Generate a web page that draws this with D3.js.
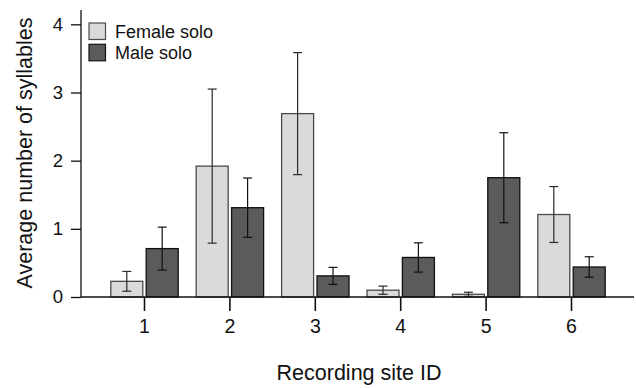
<!DOCTYPE html>
<html>
<head>
<meta charset="utf-8">
<script src="https://cdn.jsdelivr.net/npm/d3@7"></script>
<style>
  html, body { margin: 0; padding: 0; background: #fff; }
  svg { display: block; font-family: Arial, "Liberation Sans", Helvetica, sans-serif; }
</style>
</head>
<body>
<svg id="chart" width="636" height="388"></svg>
<script>
// Recording sites and the two song types
const sites = ["1", "2", "3", "4", "5", "6"];
const seriesNames = ["Female solo", "Male solo"];
// Mean syllable counts per site
const femaleMean = [0.23, 1.92, 2.69, 0.10, 0.04, 1.21];
const maleMean   = [0.71, 1.31, 0.31, 0.58, 1.75, 0.44];
// Standard errors (symmetric error bars)
const femaleSE = [0.145, 1.13, 0.895, 0.06, 0.03, 0.41];
const maleSE   = [0.315, 0.435, 0.125, 0.215, 0.66, 0.15];
const yTicks = [0, 1, 2, 3, 4];

const fills   = { "Female solo": "#d9dada", "Male solo": "#5b5b5b" };
const strokes = { "Female solo": "#4a4a4a", "Male solo": "#111111" };
const errCol  = { "Female solo": "#2a2a2a", "Male solo": "#111111" };

const rows = sites.map((s, i) => ({
  site: s,
  values: [
    { key: "Female solo", mean: femaleMean[i], se: femaleSE[i] },
    { key: "Male solo",   mean: maleMean[i],   se: maleSE[i] }
  ]
}));

const svg = d3.select("#chart");
const axisLeftX = 81, baseY = 297, topY = 10, rightX = 634;

const x = d3.scaleBand().domain(sites).range([101.8, 614.2]).padding(0);
const xInner = d3.scaleBand().domain(seriesNames)
  .range([x.bandwidth() / 2 - 33.7, x.bandwidth() / 2 + 33.7])
  .paddingInner(0.096).paddingOuter(0);
const y = d3.scaleLinear().domain([0, 4.21]).range([baseY, topY]);

// Bars
const groups = svg.append("g").selectAll("g").data(rows).join("g")
  .attr("transform", d => `translate(${x(d.site)},0)`);

groups.selectAll("rect").data(d => d.values).join("rect")
  .attr("x", d => xInner(d.key))
  .attr("y", d => y(d.mean))
  .attr("width", xInner.bandwidth())
  .attr("height", d => y(0) - y(d.mean))
  .attr("fill", d => fills[d.key])
  .attr("stroke", d => strokes[d.key])
  .attr("stroke-width", 1.3);

// Error bars
const capHalf = 4.5;
const eb = groups.selectAll("g.err").data(d => d.values).join("g").attr("class", "err")
  .attr("stroke", d => errCol[d.key]).attr("stroke-width", 1.2).attr("fill", "none");
eb.append("line")
  .attr("x1", d => xInner(d.key) + xInner.bandwidth() / 2)
  .attr("x2", d => xInner(d.key) + xInner.bandwidth() / 2)
  .attr("y1", d => y(d.mean + d.se))
  .attr("y2", d => y(Math.max(0, d.mean - d.se)));
eb.append("line")
  .attr("x1", d => xInner(d.key) + xInner.bandwidth() / 2 - capHalf)
  .attr("x2", d => xInner(d.key) + xInner.bandwidth() / 2 + capHalf)
  .attr("y1", d => y(d.mean + d.se)).attr("y2", d => y(d.mean + d.se));
eb.append("line")
  .attr("x1", d => xInner(d.key) + xInner.bandwidth() / 2 - capHalf)
  .attr("x2", d => xInner(d.key) + xInner.bandwidth() / 2 + capHalf)
  .attr("y1", d => y(Math.max(0, d.mean - d.se))).attr("y2", d => y(Math.max(0, d.mean - d.se)));

// Y axis
const yAxis = svg.append("g").attr("transform", `translate(${axisLeftX},0)`)
  .call(d3.axisLeft(y).tickValues(yTicks).tickFormat(d3.format("d")).tickSize(10).tickPadding(8));
yAxis.select(".domain").remove();
yAxis.append("line").attr("x1", 0).attr("x2", 0).attr("y1", topY).attr("y2", baseY)
  .attr("stroke", "#111").attr("stroke-width", 1.3);
yAxis.selectAll(".tick line").attr("stroke", "#111").attr("stroke-width", 1.3);
yAxis.selectAll(".tick text").attr("fill", "#111").style("font-size", "18.5px");

// X axis (ticks hang below the baseline)
const xAxis = svg.append("g").attr("transform", `translate(0,${baseY})`)
  .call(d3.axisBottom(x).tickSize(14).tickPadding(8));
xAxis.select(".domain").remove();
xAxis.append("line").attr("x1", axisLeftX).attr("x2", rightX).attr("y1", 0).attr("y2", 0)
  .attr("stroke", "#111").attr("stroke-width", 1.3);
xAxis.selectAll(".tick line").attr("stroke", "#111").attr("stroke-width", 1.6);
xAxis.selectAll(".tick text").attr("fill", "#111").style("font-size", "19.5px");

// Axis titles
svg.append("text")
  .attr("x", 359).attr("y", 380)
  .attr("text-anchor", "middle").attr("fill", "#111")
  .style("font-size", "21.5px").text("Recording site ID");
svg.append("text")
  .attr("transform", "translate(32,153) rotate(-90)")
  .attr("text-anchor", "middle").attr("fill", "#111")
  .style("font-size", "21.5px").text("Average number of syllables");

// Legend
const legend = svg.append("g").attr("transform", "translate(89,23)");
const li = legend.selectAll("g").data(seriesNames).join("g")
  .attr("transform", (d, i) => `translate(0,${i * 21.3})`);
li.append("rect").attr("width", 16.5).attr("height", 16.5)
  .attr("fill", d => fills[d]).attr("stroke", d => strokes[d]).attr("stroke-width", 1.2);
li.append("text").attr("x", 26).attr("y", 8.5).attr("dy", "0.35em")
  .attr("fill", "#111").style("font-size", "18px").text(d => d);
</script>
</body>
</html>
